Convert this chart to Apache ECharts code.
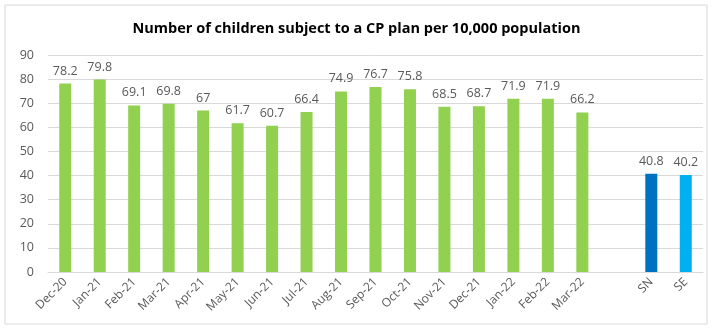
<!DOCTYPE html>
<html>
<head>
<meta charset="utf-8">
<script src="https://cdn.jsdelivr.net/npm/echarts@6/dist/echarts.min.js"></script>
<style>
  html, body { margin: 0; padding: 0; background: #fff; }
  #chart { width: 713px; height: 329px; }
</style>
</head>
<body>
<div id="chart"></div>
<script>
var categories = ['Dec-20', 'Jan-21', 'Feb-21', 'Mar-21', 'Apr-21', 'May-21', 'Jun-21', 'Jul-21', 'Aug-21',
  'Sep-21', 'Oct-21', 'Nov-21', 'Dec-21', 'Jan-22', 'Feb-22', 'Mar-22', '', 'SN', 'SE'];
var values = [78.2, 79.8, 69.1, 69.8, 67, 61.7, 60.7, 66.4, 74.9, 76.7, 75.8, 68.5, 68.7, 71.9, 71.9, 66.2, null, 40.8, 40.2];
var barColors = { SN: '#0070C0', SE: '#00B0F0' };

var myChart = echarts.init(document.getElementById('chart'));

var seriesData = values.map(function (v, i) {
  if (v === null) return '-';
  return {
    value: v,
    itemStyle: { color: barColors[categories[i]] || '#92D050' }
  };
});

var option = {
  animation: false,
  title: {
    text: 'Number of children subject to a CP plan per 10,000 population',
    left: 'center',
    top: 16,
    textStyle: {
      color: '#000',
      fontSize: 14.5,
      fontWeight: 'bold',
      fontFamily: 'Open Sans'
    }
  },
  graphic: [{
    type: 'rect',
    shape: { x: 5, y: 5, width: 702, height: 319 },
    style: { fill: 'none', stroke: '#d9d9d9', lineWidth: 1 },
    silent: true
  }],
  grid: {
    left: 48,
    right: 10,
    top: 55,
    bottom: 57
  },
  xAxis: {
    type: 'category',
    data: categories,
    axisTick: { show: false },
    axisLine: { lineStyle: { color: '#d9d9d9' } },
    axisLabel: {
      rotate: 45,
      interval: 0,
      color: '#595959',
      fontSize: 12,
      fontFamily: 'Open Sans',
      margin: 8
    }
  },
  yAxis: {
    type: 'value',
    min: 0,
    max: 90,
    interval: 10,
    axisLine: { show: false },
    axisTick: { show: false },
    splitLine: { lineStyle: { color: '#d9d9d9' } },
    axisLabel: {
      color: '#595959',
      fontSize: 12.5,
      fontFamily: 'Open Sans',
      margin: 14
    }
  },
  series: [{
    type: 'bar',
    data: seriesData,
    barWidth: 12,
    label: {
      show: true,
      position: 'top',
      color: '#595959',
      fontSize: 12.5,
      fontFamily: 'Open Sans',
      distance: 6
    }
  }]
};

myChart.setOption(option);
</script>
</body>
</html>
